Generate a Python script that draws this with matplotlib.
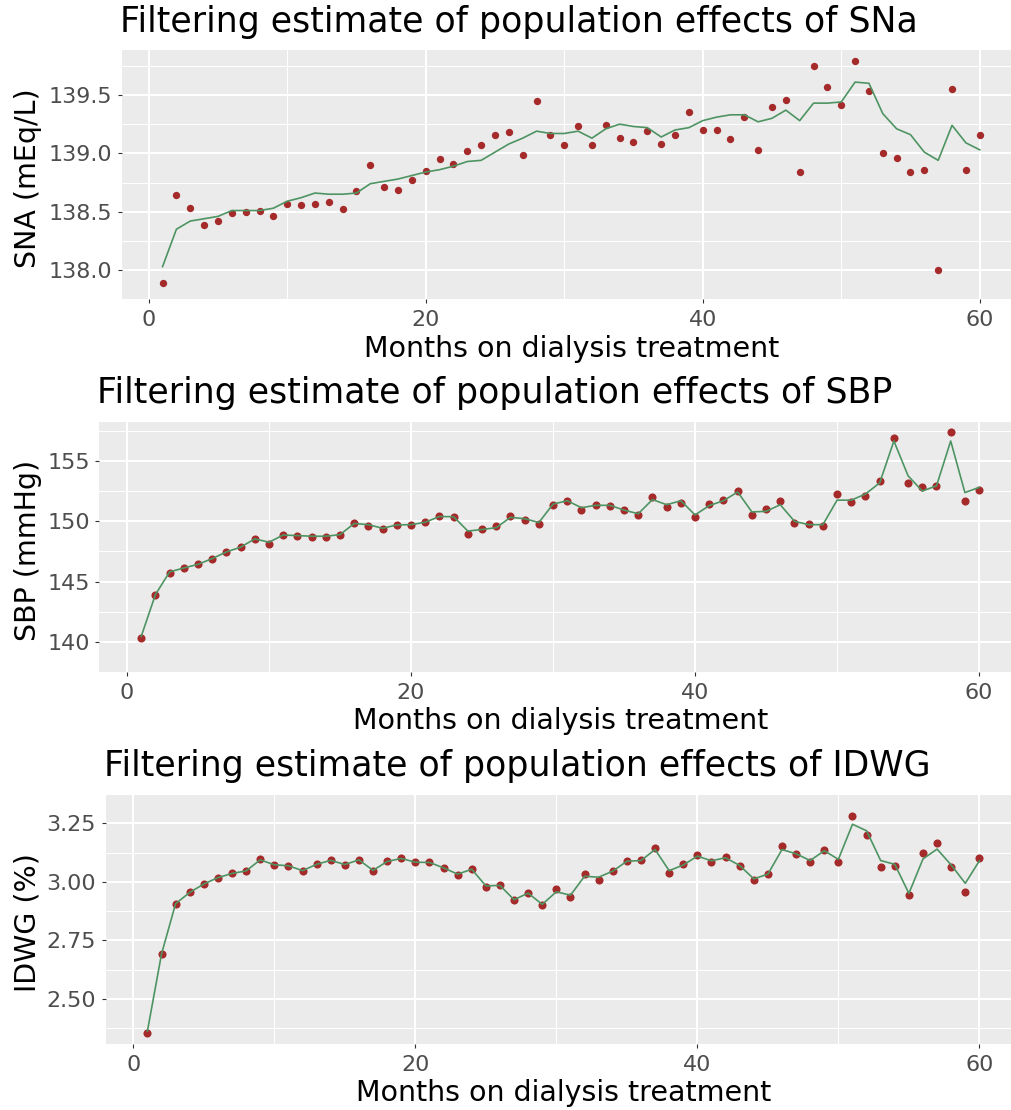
import matplotlib
matplotlib.use("Agg")
import matplotlib.pyplot as plt
import numpy as np

plt.rcParams['font.family'] = ['DejaVu Sans']

months = np.arange(1, 61)

sna_obs = [137.89, 138.64, 138.53, 138.39, 138.42, 138.49, 138.50, 138.51, 138.46, 138.57,
           138.56, 138.57, 138.58, 138.52, 138.68, 138.90, 138.71, 138.69, 138.77, 138.85,
           138.95, 138.91, 139.02, 139.07, 139.16, 139.18, 138.99, 139.45, 139.16, 139.07,
           139.23, 139.07, 139.24, 139.13, 139.10, 139.19, 139.08, 139.16, 139.35, 139.20,
           139.20, 139.12, 139.31, 139.03, 139.40, 139.46, 138.84, 139.75, 139.57, 139.41,
           139.79, 139.53, 139.00, 138.96, 138.84, 138.86, 138.00, 139.55, 138.86, 139.16]
sna_filt = [138.03, 138.35, 138.42, 138.44, 138.46, 138.51, 138.51, 138.51, 138.53, 138.59,
            138.62, 138.66, 138.65, 138.65, 138.66, 138.74, 138.76, 138.78, 138.81, 138.84,
            138.86, 138.89, 138.93, 138.94, 139.01, 139.08, 139.13, 139.19, 139.17, 139.17,
            139.19, 139.13, 139.21, 139.25, 139.23, 139.22, 139.14, 139.20, 139.22, 139.28,
            139.31, 139.33, 139.33, 139.27, 139.30, 139.37, 139.28, 139.43, 139.43, 139.44,
            139.61, 139.60, 139.34, 139.21, 139.16, 139.01, 138.94, 139.24, 139.09, 139.03]

sbp_obs = [140.33, 143.91, 145.67, 146.13, 146.43, 146.86, 147.46, 147.86, 148.55, 148.14,
           148.87, 148.82, 148.72, 148.67, 148.85, 149.91, 149.63, 149.33, 149.71, 149.71,
           149.96, 150.46, 150.39, 148.95, 149.40, 149.60, 150.44, 150.13, 149.81, 151.37,
           151.72, 150.97, 151.39, 151.27, 150.94, 150.56, 152.07, 151.17, 151.57, 150.34,
           151.42, 151.75, 152.53, 150.54, 151.04, 151.72, 149.86, 149.78, 149.63, 152.30,
           151.60, 152.15, 153.39, 156.97, 153.23, 152.86, 152.91, 157.44, 151.72, 152.65]
sbp_filt = [140.43, 143.91, 145.80, 146.13, 146.43, 146.91, 147.46, 147.86, 148.55, 148.27,
            148.87, 148.82, 148.77, 148.77, 148.90, 149.83, 149.73, 149.43, 149.71, 149.73,
            149.93, 150.41, 150.39, 149.20, 149.33, 149.48, 150.34, 150.23, 149.91, 151.44,
            151.72, 151.14, 151.34, 151.34, 150.94, 150.64, 151.82, 151.39, 151.72, 150.54,
            151.32, 151.72, 152.45, 150.79, 150.84, 151.39, 150.01, 149.73, 149.73, 151.77,
            151.77, 152.28, 153.21, 156.69, 153.79, 152.53, 152.96, 156.69, 152.40, 152.83]

idwg_obs = [2.356, 2.692, 2.907, 2.955, 2.991, 3.018, 3.036, 3.047, 3.096, 3.073,
            3.069, 3.046, 3.076, 3.094, 3.073, 3.095, 3.047, 3.088, 3.101, 3.083,
            3.084, 3.059, 3.031, 3.054, 2.977, 2.985, 2.921, 2.952, 2.900, 2.969,
            2.936, 3.035, 3.009, 3.046, 3.091, 3.092, 3.143, 3.040, 3.075, 3.116,
            3.085, 3.107, 3.068, 3.010, 3.033, 3.154, 3.120, 3.083, 3.138, 3.084,
            3.283, 3.198, 3.062, 3.068, 2.946, 3.125, 3.165, 3.064, 2.958, 3.101]
idwg_filt = [2.363, 2.692, 2.907, 2.955, 2.991, 3.018, 3.036, 3.047, 3.094, 3.073,
             3.069, 3.048, 3.075, 3.092, 3.074, 3.094, 3.049, 3.087, 3.100, 3.084,
             3.083, 3.060, 3.033, 3.054, 2.983, 2.985, 2.924, 2.952, 2.904, 2.958,
             2.943, 3.024, 3.020, 3.046, 3.088, 3.091, 3.138, 3.048, 3.072, 3.110,
             3.090, 3.103, 3.070, 3.013, 3.033, 3.138, 3.120, 3.091, 3.133, 3.096,
             3.246, 3.218, 3.091, 3.075, 2.951, 3.098, 3.140, 3.072, 2.994, 3.090]

titles = ["Filtering estimate of population effects of SNa",
          "Filtering estimate of population effects of SBP",
          "Filtering estimate of population effects of IDWG"]
ylabels = ["SNA (mEq/L)", "SBP (mmHg)", "IDWG (%)"]
xlabel = "Months on dialysis treatment"
x_ticks = [0, 20, 40, 60]
y_ticks = [[138.0, 138.5, 139.0, 139.5],
           [140, 145, 150, 155],
           [2.50, 2.75, 3.00, 3.25]]
y_fmt = ["{:.1f}", "{:.0f}", "{:.2f}"]

W, H = 1012, 1110
fig = plt.figure(figsize=(W / 100, H / 100), dpi=100)

# panel boxes in pixels: left, top, right, bottom
boxes = [(121.7, 50.0, 1020.6, 299.3),
         (99.3, 421.7, 1021.0, 671.7),
         (105.8, 794.0, 1021.0, 1043.7)]

PANEL = "#EBEBEB"
PT_COLOR = "#A52A2A"
LN_COLOR = "#4E9462"


def expand(lo, hi, frac=0.05):
    r = hi - lo
    return lo - frac * r, hi + frac * r


series = [(sna_obs, sna_filt), (sbp_obs, sbp_filt), (idwg_obs, idwg_filt)]
dot_sizes = [28, 34, 34]

for i, ((obs, filt), (l, t, r, b)) in enumerate(zip(series, boxes)):
    ax = fig.add_axes([l / W, 1 - b / H, (r - l) / W, (b - t) / H])
    ax.set_facecolor(PANEL)
    for s in ax.spines.values():
        s.set_visible(False)

    ax.set_xlim(*expand(1, 60))
    allv = list(obs) + list(filt)
    ax.set_ylim(*expand(min(allv), max(allv)))

    yt = y_ticks[i]
    step = yt[1] - yt[0]
    ax.set_xticks(x_ticks)
    ax.set_xticks([10, 30, 50], minor=True)
    ax.set_yticks(yt)
    ax.set_yticks([v + step / 2 for v in [yt[0] - step] + yt], minor=True)
    ax.set_yticklabels([y_fmt[i].format(v) for v in yt])
    ax.set_xticklabels([str(v) for v in x_ticks])

    ax.grid(which='major', color='white', linewidth=1.45)
    ax.grid(which='minor', color='white', linewidth=0.75)
    ax.set_axisbelow(True)

    ax.tick_params(which='major', length=2.9, width=0.8, color='#333333',
                   labelsize=16, labelcolor='#4D4D4D')
    ax.tick_params(axis='x', which='major', pad=5.0)
    ax.tick_params(axis='y', which='major', pad=4.0)
    ax.tick_params(which='minor', length=0)

    ax.scatter(months, obs, s=dot_sizes[i], color=PT_COLOR, linewidths=0, zorder=3)
    ax.plot(months, filt, color=LN_COLOR, linewidth=1.2, zorder=4)

    fig.text((l - 2) / W, 1 - (t - 18.3) / H, titles[i], fontsize=25,
             ha='left', va='baseline', color='black')
    fig.text(((l + r) / 2) / W, 1 - (b + 57.5) / H, xlabel, fontsize=20.5,
             ha='center', va='baseline', color='black')
    fig.text(28 / W, 1 - ((t + b) / 2 + 4) / H, ylabels[i], fontsize=20.5,
             rotation=90, ha='center', va='center', color='black')

fig.savefig("out.png", dpi=100, facecolor='white')
